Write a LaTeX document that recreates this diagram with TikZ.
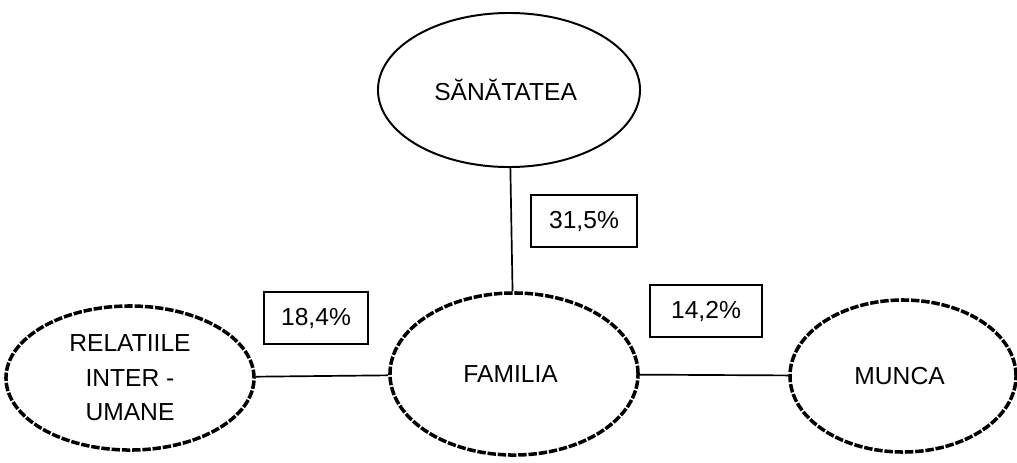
\documentclass[tikz,border=0pt]{standalone}
\usepackage{fontspec}
\setmainfont{Liberation Sans}
\usetikzlibrary{
  shapes.geometric,
  positioning}
\tikzset{
  %% factor : the central factor (dashed ellipse)
  factor/.style={
    ellipse,
    draw=black,
    line width=2.5pt,
    dash pattern=on 6pt off 1.3pt,
    inner sep=0pt,
    align=center,
    font=\fontsize{17.5}{24.5}\selectfont
  },
  %% lifearea : a domain of life (solid ellipse)
  lifearea/.style={
    ellipse,
    draw=black,
    line width=1.4pt,
    inner sep=0pt,
    align=center,
    font=\fontsize{17.5}{24}\selectfont
  },
  %% share : the percentage box
  share/.style={
    rectangle,
    draw=black,
    line width=1.4pt,
    minimum width=2.65cm,
    minimum height=1.28cm,
    font=\fontsize{17.5}{20}\selectfont
  },
  %% link : connection between two ellipses
  link/.style={black, line width=1.2pt}
}

\begin{document}
\begin{tikzpicture}
  [x=0.025cm,
  y=-0.025cm]

  \useasboundingbox (0, 0) rectangle (1017, 462);

  %% Ellipses
  \node (sanatatea) [lifearea, minimum width=6.55cm, minimum height=3.85cm]
  at (509, 90) {%
    SĂNĂTATEA
  };

  \node (familia) [factor, minimum width=6.2cm, minimum height=4.05cm]
  at (514, 374) {%
    FAMILIA
  };

  \node (relatii) [factor, minimum width=6.2cm, minimum height=3.6cm]
  at (130, 378) {%
    RELATIILE\\
    INTER -\\
    UMANE
  };

  \node (munca) [factor, minimum width=5.65cm, minimum height=3.8cm]
  at (903, 376) {%
    MUNCA
  };

  %% Connections
  \draw [link] (sanatatea) -- (familia);
  \draw [link] (relatii) -- (familia);
  \draw [link] (familia) -- (munca);

  %% Percentages
  \node (pctsan) [share] at (584, 221) {31,5\%};
  \node (pctrel) [share, minimum width=2.6cm] at (316, 318) {18,4\%};
  \node (pctmun) [share, minimum width=2.8cm] at (706, 311) {14,2\%};

\end{tikzpicture}
\end{document}
